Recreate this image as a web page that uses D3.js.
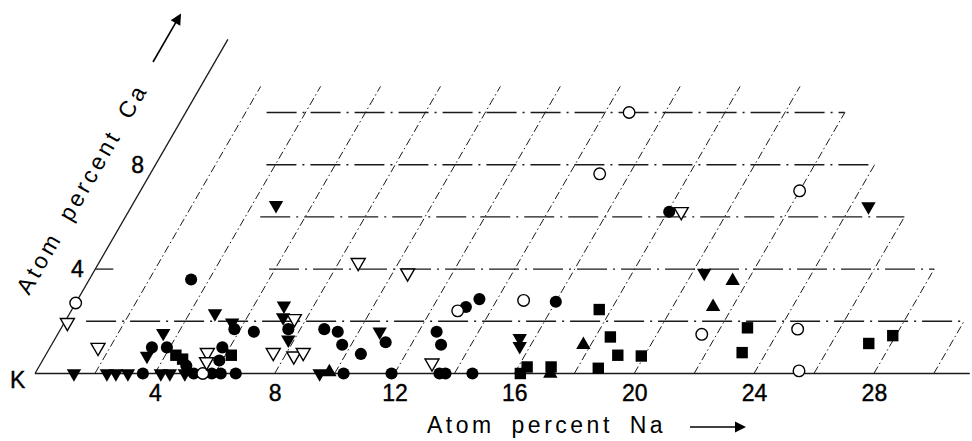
<!DOCTYPE html>
<html>
<head>
<meta charset="utf-8">
<script src="https://cdn.jsdelivr.net/npm/d3@7"></script>
<style>
  body { margin: 0; background: #fff; }
  svg { display: block; }
</style>
</head>
<body>
<div id="chart"></div>
<script>
var filledCircles = [[3.4,3.6],[3.6,0],[3.4,1.0],[3.9,1.0],[4.9,0.3],[5.3,0],[5.9,0],[6.2,0],[6.7,0],
  [5.75,1.0],[5.9,0.5],[5.8,1.7],[6.5,1.6],[7.6,1.7],[8.8,1.7],[9.3,1.6],[9.7,1.1],[10.5,0.75],
  [11.1,1.2],[10.3,0],[11.9,0],[12.6,1.6],[13.0,1.1],[13.5,0],[13.7,0],[14.6,0],[13.1,2.55],
  [13.4,2.85],[16.0,2.75],[18.05,6.2]];
var openCircles = [[0,2.7],[5.6,0],[12.9,2.4],[14.9,2.8],[14.8,10.0],[15.0,7.65],[22.0,7.0],
  [21.5,1.5],[24.6,1.7],[25.45,0.1]];
var filledDown = [[1.3,0],[2.4,0],[2.7,0],[3.1,0],[4.2,0],[4.5,0],[5.0,0],[3.4,0.67],[3.5,1.55],
  [4.85,2.3],[5.6,1.95],[7.0,2.6],[7.2,2.15],[7.8,1.3],[4.8,6.45],[9.5,0],[10.7,1.6],[15.5,1.35],
  [15.65,1.05],[20.4,3.85],[24.6,6.4]];
var openDown = [[0.1,1.95],[1.6,1.0],[5.35,0.8],[5.5,0.45],[7.55,0.8],[7.6,2.1],[8.3,0.67],
  [8.55,0.8],[8.65,4.25],[10.5,3.85],[13.05,0.4],[18.45,6.2]];
var filledSquares = [[4.35,0.7],[4.65,0.55],[6.2,0.7],[16.3,0.25],[16.2,0],[17.1,0.25],[17.6,2.45],
  [18.5,1.4],[18.7,0.2],[19.1,0.7],[19.9,0.67],[22.9,1.75],[23.2,0.8],[27.25,1.15],[27.9,1.45]];
var filledUp = [[9.8,0.05],[17.2,0],[17.75,1.1],[21.35,2.55],[21.5,3.55]];

var naTicks = [4, 8, 12, 16, 20, 24, 28];
var caTicks = [4, 8];
var caGrid = [2, 4, 6, 8, 10];
var naGrid = [2, 4, 6, 8, 10, 12, 14, 16, 18, 20, 22, 24, 26, 28, 30];

(function() {
  var width = 972, height = 441;
  var font = "'Liberation Sans', Arial, sans-serif";

  var svg = d3.select("#chart").append("svg")
    .attr("width", width)
    .attr("height", height);

  var xNa = d3.scaleLinear().domain([0, 28]).range([35, 873.9]);
  var yCa = d3.scaleLinear().domain([0, 8]).range([373.5, 164.7]);
  var tan60 = Math.tan(Math.PI / 3);

  // the Ca axis leans at 60 degrees, so every Ca unit also shifts x
  function pt(na, ca) {
    return [xNa(na) + (yCa(0) - yCa(ca)) / tan60, yCa(ca)];
  }
  function seg(a, b) {
    var p = pt(a[0], a[1]), q = pt(b[0], b[1]);
    return "M" + p[0] + "," + p[1] + "L" + q[0] + "," + q[1];
  }

  // grid start along each Ca line (left part is missing in the original)
  var hStart = { 2: 0.7, 4: 5.8, 6: 4.5, 8: 3.7, 10: 2.7 };

  var grid = svg.append("g").attr("fill", "none").attr("stroke", "#1a1a1a");

  grid.selectAll(".hline")
    .data(caGrid)
    .enter().append("path")
    .attr("class", "hline")
    .attr("d", function(ca) { return seg([hStart[ca], ca], [32 - ca, ca]); })
    .attr("stroke-width", 1.4)
    .attr("stroke-dasharray", "30,6,2,6");

  grid.selectAll(".sline")
    .data(naGrid)
    .enter().append("path")
    .attr("class", "sline")
    .attr("d", function(na) { return seg([na, 0], [na, Math.min(11, 32 - na)]); })
    .attr("stroke-width", 1)
    .attr("stroke-dasharray", "8,3,1.5,3");

  // axes
  grid.append("path").attr("d", seg([0, 0], [31.2, 0])).attr("stroke-width", 1.5);
  grid.append("path").attr("d", seg([0, 0], [0, 12.8])).attr("stroke-width", 1.3);
  grid.append("path").attr("d", seg([0, 4], [0.6, 4])).attr("stroke-width", 1.3);

  var xAxis = d3.axisBottom(xNa).tickValues(naTicks).tickSize(0).tickPadding(11);
  svg.append("g")
    .attr("class", "axis x-axis")
    .attr("transform", "translate(0," + yCa(0) + ")")
    .call(xAxis)
    .call(function(g) { g.select(".domain").remove(); })
    .selectAll("text")
    .style("font-family", font)
    .style("font-size", "23px")
    .attr("fill", "#000")
    .attr("stroke", "#000")
    .attr("stroke-width", 0.4);

  svg.selectAll(".ca-label")
    .data(caTicks)
    .enter().append("text")
    .attr("class", "ca-label")
    .attr("x", function(d) { return pt(0, d)[0] - 18; })
    .attr("y", function(d) { return pt(0, d)[1]; })
    .attr("dy", "0.36em")
    .attr("text-anchor", "middle")
    .attr("stroke", "#000")
    .attr("stroke-width", 0.4)
    .style("font-family", font)
    .style("font-size", "23px")
    .text(function(d) { return d; });

  svg.append("text")
    .attr("x", 10).attr("y", 388)
    .attr("stroke", "#000")
    .attr("stroke-width", 0.4)
    .style("font-family", font)
    .style("font-size", "23px")
    .text("K");

  svg.append("text")
    .attr("x", 427).attr("y", 433)
    .style("font-family", font)
    .style("font-size", "23px")
    .style("letter-spacing", "3.5px")
    .style("word-spacing", "7px")
    .text("Atom percent Na");

  svg.append("text")
    .attr("transform", "translate(29,296) rotate(-60)")
    .style("font-family", font)
    .style("font-size", "23px")
    .style("letter-spacing", "3.5px")
    .style("word-spacing", "7px")
    .text("Atom percent Ca");

  // arrows next to the axis titles
  function arrow(x, y, len, angle) {
    var g = svg.append("g").attr("transform", "translate(" + x + "," + y + ") rotate(" + angle + ")");
    g.append("line").attr("x1", 0).attr("x2", len - 8).attr("stroke", "#000").attr("stroke-width", 1.6);
    g.append("path").attr("d", "M" + (len - 11) + ",-5.5L" + len + ",0L" + (len - 11) + ",5.5Z").attr("fill", "#000");
  }
  arrow(690, 427, 56, 0);
  arrow(153, 62, 56, -60);

  // markers
  var layers = [
    { data: filledCircles, type: d3.symbolCircle, size: 115, rot: 0, fill: "#000" },
    { data: filledDown, type: d3.symbolTriangle, size: 90, rot: 180, fill: "#000" },
    { data: filledUp, type: d3.symbolTriangle, size: 90, rot: 0, fill: "#000" },
    { data: filledSquares, type: d3.symbolSquare, size: 130, rot: 0, fill: "#000" },
    { data: openCircles, type: d3.symbolCircle, size: 105, rot: 0, fill: "#fff" },
    { data: openDown, type: d3.symbolTriangle, size: 85, rot: 180, fill: "#fff" }
  ];

  layers.forEach(function(l) {
    svg.append("g").selectAll("path")
      .data(l.data)
      .enter().append("path")
      .attr("d", d3.symbol().type(l.type).size(l.size))
      .attr("transform", function(d) {
        var p = pt(d[0], d[1]);
        return "translate(" + p[0] + "," + p[1] + ") rotate(" + l.rot + ")";
      })
      .attr("fill", l.fill)
      .attr("stroke", "#000")
      .attr("stroke-width", l.fill === "#fff" ? 1.4 : 0);
  });
})();
</script>
</body>
</html>
